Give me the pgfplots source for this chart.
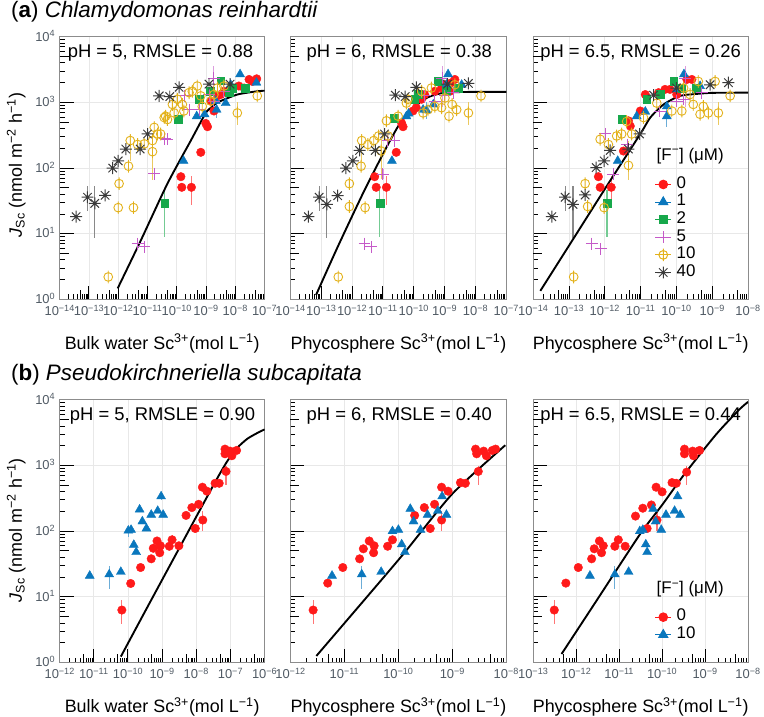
\documentclass[border=0pt]{standalone}
\usepackage{fontspec}
\setmainfont{Liberation Sans}
\usepackage{pgfplots}
\pgfplotsset{compat=1.18}

\definecolor{cRed}{HTML}{FF1A1A}
\definecolor{cBlue}{HTML}{0A77BD}
\definecolor{cGreen}{HTML}{17A84B}
\definecolor{cMag}{HTML}{C55AC8}
\definecolor{cGold}{HTML}{E3B21C}
\definecolor{cBlk}{HTML}{3A3A3A}
\definecolor{cTick}{HTML}{505A64}

\pgfdeclareplotmark{phi}{%
  \pgfpathcircle{\pgfpointorigin}{\pgfplotmarksize}%
  \pgfpathmoveto{\pgfpoint{0pt}{-1.45\pgfplotmarksize}}%
  \pgfpathlineto{\pgfpoint{0pt}{1.45\pgfplotmarksize}}%
  \pgfusepathqstroke}
\pgfdeclareplotmark{ast8}{%
  \pgfpathmoveto{\pgfpoint{-\pgfplotmarksize}{0pt}}\pgfpathlineto{\pgfpoint{\pgfplotmarksize}{0pt}}%
  \pgfpathmoveto{\pgfpoint{0pt}{-\pgfplotmarksize}}\pgfpathlineto{\pgfpoint{0pt}{\pgfplotmarksize}}%
  \pgfpathmoveto{\pgfpoint{-0.707\pgfplotmarksize}{-0.707\pgfplotmarksize}}\pgfpathlineto{\pgfpoint{0.707\pgfplotmarksize}{0.707\pgfplotmarksize}}%
  \pgfpathmoveto{\pgfpoint{-0.707\pgfplotmarksize}{0.707\pgfplotmarksize}}\pgfpathlineto{\pgfpoint{0.707\pgfplotmarksize}{-0.707\pgfplotmarksize}}%
  \pgfusepathqstroke}

\newcommand\mkminor[3]{%
  \xdef#1{1e#2}%
  \foreach \ee in {#2,...,#3}{%
    \foreach \mm in {2,3,4,6,7,8,9}{\xdef#1{#1,\mm e\ee}}}}
\newcommand\mkfive[3]{%
  \xdef#1{5e#2}%
  \foreach \ee in {#2,...,#3}{\xdef#1{#1,5e\ee}}}
\mkminor\mxA{-14}{-8}\mkfive\fxA{-14}{-8}
\mkminor\mxC{-14}{-9}\mkfive\fxC{-14}{-9}
\mkminor\mxD{-12}{-7}\mkfive\fxD{-12}{-7}
\mkminor\mxE{-12}{-9}\mkfive\fxE{-12}{-9}
\mkminor\mxF{-13}{-9}\mkfive\fxF{-13}{-9}
\mkminor\myA{0}{3}\mkfive\fyA{0}{3}
\edef\tmpdef{\noexpand\pgfplotsset{
  tkA/.style={minor xtick={\mxA}, extra x ticks={\fxA}},
  tkC/.style={minor xtick={\mxC}, extra x ticks={\fxC}},
  tkD/.style={minor xtick={\mxD}, extra x ticks={\fxD}},
  tkE/.style={minor xtick={\mxE}, extra x ticks={\fxE}},
  tkF/.style={minor xtick={\mxF}, extra x ticks={\fxF}},
  tkY/.style={minor ytick={\myA}, extra y ticks={\fyA}}}}
\tmpdef

\newcommand\E[1]{10\textsuperscript{−#1}}
\newcommand\Ep[1]{10\textsuperscript{#1}}
\newcommand\tickfont{\fontsize{13}{14}\selectfont}
\newcommand\pfont{\fontsize{18.5}{19}\selectfont}
\newcommand\lfont{\fontsize{18}{19}\selectfont}
\newcommand\tfont{\fontsize{22.5}{24}\selectfont}
\newcommand\gfont{\fontsize{17}{17}\selectfont}

\pgfplotsset{
  scp/.style={
    scale only axis, height=264pt,
    anchor=south west,
    axis line style={black!45, line width=0.9pt},
    tick align=inside, xtick pos=left, ytick pos=left,
    tick style={black, line width=1pt},
    major tick length=14pt, minor tick length=5pt,
    xmajorgrids, ymajorgrids, major grid style={black!9, line width=0.9pt},
    ytick={1,10,100,1000,10000},
    tkY, extra y tick labels={},
    extra y tick style={grid=none, major tick length=9pt},
    extra x tick labels={},
    extra x tick style={grid=none, major tick length=9pt},
    ticklabel style={font=\tickfont, text=cTick},
    xticklabel style={yshift=-2pt},
    yticklabel style={xshift=-1pt, yshift=1pt},
    yticklabels={},
  },
  ebar/.style={error bars/y dir=both, error bars/y explicit, error bars/error mark=none,
    error bars/error bar style={line width=1.1pt, #1}},
  ser0/.style={only marks, mark=*, mark size=4.3pt, color=cRed, ebar=cRed!60},
  ser1/.style={only marks, mark=triangle*, mark size=5.2pt, color=cBlue, ebar=cBlue!60},
  ser2/.style={only marks, mark=square*, mark size=3.9pt, color=cGreen, ebar=cGreen!60},
  ser3/.style={only marks, mark=+, mark size=6pt, line width=1pt, color=cMag, ebar=cMag!60},
  ser4/.style={only marks, mark=phi, mark size=4.4pt, line width=0.9pt, color=cGold, ebar=cGold!70},
  ser5/.style={only marks, mark=ast8, mark size=6pt, line width=1pt, color=cBlk, ebar=cBlk!60},
  fitc/.style={black, line width=1.9pt, smooth, tension=0.4, no marks, forget plot},
  lgd/.style={
    legend image code/.code={\draw[##1, sharp plot, mark repeat=2, mark phase=2, line width=1pt]
      plot coordinates {(-8pt,0pt) (0pt,0pt) (8pt,0pt)};},
    legend cell align=left,
    legend style={draw=none, fill=none, font=\gfont, inner sep=0pt, row sep=0pt,
      nodes={inner ysep=0pt, inner xsep=5pt, text height=12.7pt, text depth=5pt}},
  },
}

\begin{document}
\begin{tikzpicture}
\path (0pt,0pt) rectangle (764pt,720pt);

% ---------------- (a1) ----------------
\begin{axis}[xmode=log, ymode=log, ymin=1, ymax=1e4, scp, tkA, at={(60pt,419pt)}, width=206pt, xmin=1e-14, xmax=1e-7,
  xtick={1e-14,1e-13,1e-12,1e-11,1e-10,1e-9,1e-8,1e-7},
  xticklabels={\E{14},\E{13},\E{12},\E{11},\E{10},\E{9},\E{8},\E{7}},
  yticklabels={\Ep{0},\Ep{1},\Ep{2},\Ep{3},\Ep{4}}]
\addplot[ser0] coordinates {(6.6e-10,174) (1.38e-10,74) (1.48e-10,51) (3.16e-10,51) += (0,25) -= (0,24) (9.8e-10,479) (1.12e-9,427) (1.45e-9,1050) (1.86e-9,741) (2.45e-9,1260) (3.16e-9,1320) (4.07e-9,1480) (6.9e-9,1580) (1.32e-8,1780) (2.0e-8,1660) (2.95e-8,2240) (3.8e-8,2090) (5.37e-8,2290)};
\addplot[ser1] coordinates {(1.7e-10,129) (4.79e-10,617) (8.9e-10,661) (2.14e-9,1050) (2.29e-9,776) += (0,250) -= (0,200) (4.68e-9,977) (6.9e-9,1860) (1.45e-8,2690) (5.25e-8,2000)};
\addplot[ser2] coordinates {(3.9e-11,29.5) += (0,17) -= (0,20.5) (1.15e-10,550) (6.0e-10,1120) (1.38e-9,1480) (3.16e-9,2140) (6.03e-9,1410) (7.94e-9,1660) (2.14e-8,1660)};
\addplot[ser3] coordinates {(4.57e-12,7.1) (7.76e-12,6.3) (1.7e-11,82) += (0,15) -= (0,12) (3.9e-11,282) (4.79e-11,275) (1.9e-10,1260) (2.63e-10,776) (5.75e-10,776) (1.26e-9,1320) (1.86e-9,2340) += (0,1200) -= (0,1500) (1.86e-9,1050) (4.07e-9,1480)};
\addplot[ser4] coordinates {(4.57e-13,2.2) (1.0e-12,25) (1.07e-12,58) (2.24e-12,107) (3.31e-12,25) (2.57e-12,263) += (0,67) -= (0,133) (4.57e-12,229) (7.76e-12,234) (1.48e-11,178) += (0,82) -= (0,113) (1.48e-11,263) (2.19e-11,331) (2.82e-11,331) (1.7e-11,417) (3.72e-11,589) (4.17e-11,617) (4.79e-11,550) (7.08e-11,933) (8.13e-11,692) (1.05e-10,1120) (1.55e-10,933) (1.74e-10,741) (2.63e-10,1410) (3.39e-10,1480) (5.01e-10,1780) (6.61e-10,1260) (7.41e-10,871) (1.45e-9,1050) (1.86e-9,1320) (2.45e-9,1660) (4.07e-9,1780) (1.17e-8,692) += (0,310) -= (0,240) (5.62e-8,1260)};
\addplot[ser5] coordinates {(3.63e-14,18.2) (8.9e-14,36) += (0,17) -= (0,14) (1.58e-13,29) += (0,24) -= (0,20.3) (3.55e-13,38.5) (6.46e-13,100) (1.0e-12,129) (1.82e-12,195) (5.62e-12,195) (1.0e-11,331) (2.51e-11,1260) (5.75e-11,1230) (1.2e-10,1700) (1.26e-9,1900) (6.6e-9,1900)};
\addplot[fitc] coordinates {(9.55e-13,1.47) (5.89e-12,7.9) (4.79e-11,58) (3.02e-10,263) (9.77e-10,692) (1.58e-9,851) (2.45e-9,1000) (1.17e-8,1320) (5.62e-8,1480) (1e-7,1510)};
\node[anchor=base west, inner sep=0pt, font=\pfont] at (rel axis cs:0.039,0.92) {pH = 5, RMSLE = 0.88};
\end{axis}

% ---------------- (a2) ----------------
\begin{axis}[xmode=log, ymode=log, ymin=1, ymax=1e4, scp, tkA, at={(292pt,419pt)}, width=217pt, xmin=1e-14, xmax=1e-7,
  xtick={1e-14,1e-13,1e-12,1e-11,1e-10,1e-9,1e-8,1e-7},
  xticklabels={\E{14},\E{13},\E{12},\E{11},\E{10},\E{9},\E{8},\E{7}}]
\addplot[ser0] coordinates {(5.37e-12,74) (6.03e-12,51) (1.29e-11,51) += (0,25) -= (0,24) (2.69e-11,174) (4.47e-11,427) (3.98e-11,490) (9.33e-11,741) (1.2e-10,832) (1.78e-10,1120) (2.24e-10,1320) (4.79e-10,1480) (7.94e-10,1660) (1.02e-9,1860) (1.48e-9,1480) (1.66e-9,2000) (2.14e-9,2240)};
\addplot[ser1] coordinates {(1.95e-11,129) (5.75e-11,617) (6.76e-11,676) (2.0e-10,776) (2.57e-10,759) += (0,250) -= (0,200) (4.27e-10,933) (1.15e-9,1860) (1.29e-9,2690) (3.55e-9,1860)};
\addplot[ser2] coordinates {(7.94e-12,29.5) += (0,17) -= (0,20.5) (2.29e-11,575) (1.07e-10,1120) (1.38e-10,1320) (6.17e-10,2090) (1.15e-9,1480) (2.75e-9,1660)};
\addplot[ser3] coordinates {(2.51e-12,7.1) (4.17e-12,6.3) (1.0e-11,81) += (0,15) -= (0,12) (1.45e-11,263) (2.29e-11,263) (2.24e-10,1260) (4.79e-10,1050) (1.02e-9,1260) (8.32e-10,2340) += (0,1200) -= (0,1500) (1.91e-9,1410)};
\addplot[ser4] coordinates {(3.55e-13,2.2) (8.13e-13,58) (8.13e-13,26) (1.95e-12,107) (2.63e-12,25) (2.04e-12,263) += (0,67) -= (0,133) (3.24e-12,229) (5.01e-12,263) (7.24e-12,309) (8.71e-12,182) += (0,82) -= (0,113) (1.29e-11,525) (1.45e-11,309) (3.09e-11,617) (5.75e-11,977) (6.46e-11,1120) (1.78e-10,1480) (2.0e-10,692) (2.88e-10,776) (3.72e-10,1660) (4.79e-10,871) (7.94e-10,832) (1.02e-9,1170) (1.38e-9,617) (1.74e-9,933) (2.14e-9,1860) (2.45e-9,776) (5.89e-9,692) += (0,310) -= (0,240) (1.51e-8,1260)};
\addplot[ser5] coordinates {(3.8e-14,18.2) (8.5e-14,36) += (0,17) -= (0,14) (1.51e-13,28) += (0,25) -= (0,19.3) (3.39e-13,38) (6.31e-13,100) (1.05e-12,129) (1.74e-12,186) (5.62e-12,186) (1.12e-11,331) (2.51e-11,1290) (5.25e-11,1230) (1.2e-10,1700) (1.23e-9,1900) (5.89e-9,1950)};
\addplot[fitc] coordinates {(6.76e-14,1.17) (3.39e-13,6.3) (2.51e-12,46) (1.45e-11,229) (3.89e-11,513) (1.07e-10,871) (2.88e-10,1200) (1e-9,1410) (1e-8,1450) (1e-7,1450)};
\node[anchor=base west, inner sep=0pt, font=\pfont] at (rel axis cs:0.074,0.92) {pH = 6, RMSLE = 0.38};
\end{axis}

% ---------------- (a3) ----------------
\begin{axis}[xmode=log, ymode=log, ymin=1, ymax=1e4, scp, tkC, lgd, at={(536pt,419pt)}, width=216pt, xmin=1e-14, xmax=1e-8,
  xtick={1e-14,1e-13,1e-12,1e-11,1e-10,1e-9,1e-8},
  xticklabels={\E{14},\E{13},\E{12},\E{11},\E{10},\E{9},\E{8}},
  legend style={at={(rel axis cs:0.565,0.472)}, anchor=north west}]
\addplot[ser0] coordinates {(6.61e-13,74) (7.41e-13,51) (1.51e-12,51) += (0,25) -= (0,24) (3.31e-12,182) (5.13e-12,437) (4.57e-12,525) (9.77e-12,741) (1.35e-11,1320) (3.16e-11,1410) (4.79e-11,1580) (6.61e-11,1580) (1.02e-10,1320) (1.26e-10,1660) (1.95e-10,2240) (2.69e-10,2240)};
\addlegendentry{0}
\addplot[ser1] coordinates {(2.29e-12,129) (7.76e-12,617) (1.35e-11,724) (5.37e-11,871) (5.37e-11,617) += (0,250) -= (0,200) (1.02e-10,1580) (1.62e-10,2690) (4.57e-10,1780)};
\addlegendentry{1}
\addplot[ser2] coordinates {(1.15e-12,29.5) += (0,17) -= (0,20.5) (2.95e-12,550) (1.48e-11,1120) (3.47e-11,1320) (8.32e-11,2090) (1.41e-10,1660) (3.55e-10,1660)};
\addlegendentry{2}
\addplot[ser3] coordinates {(4.37e-13,7.1) (7.76e-13,5.9) (1.74e-12,81) += (0,15) -= (0,12) (1.02e-12,331) (4.27e-12,229) (3.47e-11,741) (1.02e-10,1050) (1.58e-10,1120) (1.74e-10,2340) += (0,1200) -= (0,1500) (5.13e-10,1410)};
\addlegendentry{5}
\addplot[ser4] coordinates {(1.35e-13,2.2) (2.82e-13,58) (3.31e-13,26) (9.55e-13,25) (7.41e-13,275) (1.26e-12,229) (2.14e-12,309) (2.95e-12,331) (4.07e-12,513) (4.57e-12,110) += (0,150) -= (0,45) (5.62e-12,331) (1.2e-11,589) (2.82e-11,977) (7.41e-11,741) (1.41e-10,741) (1.58e-10,1660) (2.4e-10,1320) (2.95e-10,933) (4.07e-10,2090) (4.57e-10,661) (5.62e-10,871) (7.76e-10,692) (1.2e-9,2090) (1.48e-9,692) += (0,310) -= (0,240) (3.16e-9,1260)};
\addlegendentry{10}
\addplot[ser5] coordinates {(3.31e-14,18.2) (7.76e-14,36) += (0,17) -= (0,14) (1.29e-13,28) += (0,25) -= (0,19.3) (2.82e-13,39) (5.75e-13,102) (9.55e-13,129) (1.41e-12,186) (4.57e-12,195) (9.33e-12,331) (2.29e-11,1290) (1e-10,1660) (8.71e-10,1860) (2.82e-9,2000)};
\addlegendentry{40}
\addplot[fitc] coordinates {(1.58e-14,1.35) (1e-13,6.6) (1e-12,48) (9.77e-12,331) (1.86e-11,589) (4.37e-11,933) (1.26e-10,1260) (3.72e-10,1350) (1e-9,1400) (1e-8,1410)};
\node[anchor=base west, inner sep=0pt, font=\pfont] at (rel axis cs:0.032,0.92) {pH = 6.5, RMSLE = 0.26};
\node[anchor=base west, inner sep=0pt, font=\gfont] at (rel axis cs:0.574,0.53) {[F\textsuperscript{−}] (μM)};
\end{axis}

% ---------------- (b1) ----------------
\begin{axis}[xmode=log, ymode=log, ymin=1, ymax=1e4, scp, tkD, at={(60pt,54pt)}, width=206pt, xmin=1e-12, xmax=1e-6,
  xtick={1e-12,1e-11,1e-10,1e-9,1e-8,1e-7,1e-6},
  xticklabels={\E{12},\E{11},\E{10},\E{9},\E{8},\E{7},\E{6}},
  yticklabels={\Ep{0},\Ep{1},\Ep{2},\Ep{3},\Ep{4}}]
\addplot[ser0] coordinates {(6.61e-11,6.3) += (0,2.7) -= (0,2.5) (1.2e-10,16) (2.34e-10,28) (4.79e-10,38) (5.5e-10,55) (7.08e-10,71) (8.51e-10,47) (8.91e-10,60) (1.62e-9,59) (1.95e-9,74) += (0,15) -= (0,10) (3.09e-9,60) (5.01e-9,174) (7.41e-9,229) (9.33e-9,110) (1.17e-8,257) (1.55e-8,148) += (0,52) -= (0,48) (1.51e-8,468) (2.04e-8,407) (3.55e-8,537) (4.68e-8,537) (7.41e-8,813) += (0,187) -= (0,313) (6.92e-8,1780) (6.92e-8,1510) (9.77e-8,1660) (1.1e-7,1410) (1.51e-7,1700)};
\addplot[ser1] coordinates {(7.59e-12,21) (2.82e-11,22) += (0,8) -= (0,9) (6.17e-11,24) (1.02e-10,102) += (0,15) -= (0,20) (1.23e-10,105) (1.48e-10,62) (1.74e-10,48) (2.19e-10,214) (2.63e-10,141) (3.47e-10,110) (4.79e-10,178) (7.41e-10,204) (9.33e-10,339) += (0,60) -= (0,40) (1.07e-9,178)};
\addplot[fitc] coordinates {(6.17e-11,1.23) (3.16e-10,6.0) (3.16e-9,55) (3.16e-8,501) (7.94e-8,1150) (1.58e-7,1860) (3.16e-7,2570) (6.31e-7,3160) (1e-6,3550)};
\node[anchor=base west, inner sep=0pt, font=\pfont] at (rel axis cs:0.049,0.92) {pH = 5, RMSLE = 0.90};
\end{axis}

% ---------------- (b2) ----------------
\begin{axis}[xmode=log, ymode=log, ymin=1, ymax=1e4, scp, tkE, at={(292pt,54pt)}, width=217pt, xmin=1e-12, xmax=1e-8,
  xtick={1e-12,1e-11,1e-10,1e-9,1e-8},
  xticklabels={\E{12},\E{11},\E{10},\E{9},\E{8}}]
\addplot[ser0] coordinates {(2.63e-12,6.3) += (0,2.7) -= (0,2.5) (4.9e-12,16.2) (9.33e-12,28) (1.91e-11,38) (2.24e-11,54) (2.88e-11,71) (3.47e-11,47) (3.55e-11,60) (6.31e-11,59) (7.76e-11,74) (2.0e-10,174) (3.02e-10,229) (3.89e-10,110) (4.68e-10,257) (6.31e-10,148) += (0,52) -= (0,48) (6.31e-10,468) (8.32e-10,407) (1.41e-9,550) (1.74e-9,537) (3.02e-9,813) += (0,187) -= (0,313) (2.69e-9,1780) (2.82e-9,1510) (3.8e-9,1660) (4.27e-9,1410) (5.5e-9,1700) (6.31e-9,1780)};
\addplot[ser1] coordinates {(5.89e-12,21) (2.09e-11,22) += (0,8) -= (0,9) (4.79e-11,24) (7.76e-11,100) (1.0e-10,105) (1.15e-10,63) (1.32e-10,48) (1.66e-10,219) (1.91e-10,141) (2.57e-10,105) (3.47e-10,178) (5.37e-10,204) (6.46e-10,339) (7.76e-10,178)};
\addplot[fitc] coordinates {(3.02e-12,1.26) (3.16e-11,12) (1.32e-10,48) (1e-9,372) (9.55e-9,2040)};
\node[anchor=base west, inner sep=0pt, font=\pfont] at (rel axis cs:0.074,0.92) {pH = 6, RMSLE = 0.40};
\end{axis}

% ---------------- (b3) ----------------
\begin{axis}[xmode=log, ymode=log, ymin=1, ymax=1e4, scp, tkF, lgd, at={(536pt,54pt)}, width=216pt, xmin=1e-13, xmax=1e-8,
  xtick={1e-13,1e-12,1e-11,1e-10,1e-9,1e-8},
  xticklabels={\E{13},\E{12},\E{11},\E{10},\E{9},\E{8}},
  legend style={at={(rel axis cs:0.565,0.207)}, anchor=north west}]
\addplot[ser0] coordinates {(3.09e-13,6.3) += (0,2.7) -= (0,2.5) (5.75e-13,16.2) (1.12e-12,28) (2.29e-12,38) (2.63e-12,54) (3.47e-12,71) (3.89e-12,47) (4.27e-12,60) (7.94e-12,59) (9.55e-12,74) (1.38e-11,59) (2.4e-11,170) (3.55e-11,224) (4.47e-11,110) (5.62e-11,251) (7.59e-11,148) += (0,52) -= (0,48) (7.24e-11,468) (1.0e-10,398) (1.7e-10,550) (2.14e-10,537) (3.72e-10,794) += (0,206) -= (0,294) (3.31e-10,1780) (3.31e-10,1510) (5.13e-10,1660) (5.37e-10,1410) (7.41e-10,1700)};
\addlegendentry{0}
\addplot[ser1] coordinates {(2.09e-12,21) (7.94e-12,22) += (0,8) -= (0,9) (1.66e-11,24) (3.02e-11,100) (3.55e-11,105) (4.17e-11,63) (4.47e-11,48) (6.17e-11,219) (7.08e-11,141) (9.55e-11,105) (1.23e-10,178) (1.95e-10,204) (2.29e-10,339) (2.63e-10,178)};
\addlegendentry{10}
\addplot[fitc] coordinates {(4.57e-13,1.35) (3.16e-12,9.3) (3.02e-11,89) (1e-10,251) (3.31e-10,741) (1.78e-9,2950) (6.17e-9,7080) (1e-8,9330)};
\node[anchor=base west, inner sep=0pt, font=\pfont] at (rel axis cs:0.032,0.92) {pH = 6.5, RMSLE = 0.44};
\node[anchor=base west, inner sep=0pt, font=\gfont] at (rel axis cs:0.574,0.261) {[F\textsuperscript{−}] (μM)};
\end{axis}

% titles and axis labels
\node[anchor=base west, inner sep=0pt, font=\tfont] at (11pt,702pt) {(\textbf{a}) \textit{Chlamydomonas reinhardtii}};
\node[anchor=base west, inner sep=0pt, font=\tfont] at (11pt,338pt) {(\textbf{b}) \textit{Pseudokirchneriella subcapitata}};
\node[rotate=90, anchor=base, inner sep=0pt, font=\lfont] at (22pt,554pt) {\textit{J}\textsubscript{Sc} (nmol m\textsuperscript{−2} h\textsuperscript{−1})};
\node[rotate=90, anchor=base, inner sep=0pt, font=\lfont] at (22pt,187pt) {\textit{J}\textsubscript{Sc} (nmol m\textsuperscript{−2} h\textsuperscript{−1})};
\foreach \yy in {369pt,4pt}{
  \node[anchor=base, inner sep=0pt, font=\lfont] at (163pt,\yy) {Bulk water Sc\textsuperscript{3+}(mol L\textsuperscript{−1})};
  \node[anchor=base, inner sep=0pt, font=\lfont] at (400.5pt,\yy) {Phycosphere Sc\textsuperscript{3+}(mol L\textsuperscript{−1})};
  \node[anchor=base, inner sep=0pt, font=\lfont] at (644pt,\yy) {Phycosphere Sc\textsuperscript{3+}(mol L\textsuperscript{−1})};
}
\end{tikzpicture}
\end{document}
